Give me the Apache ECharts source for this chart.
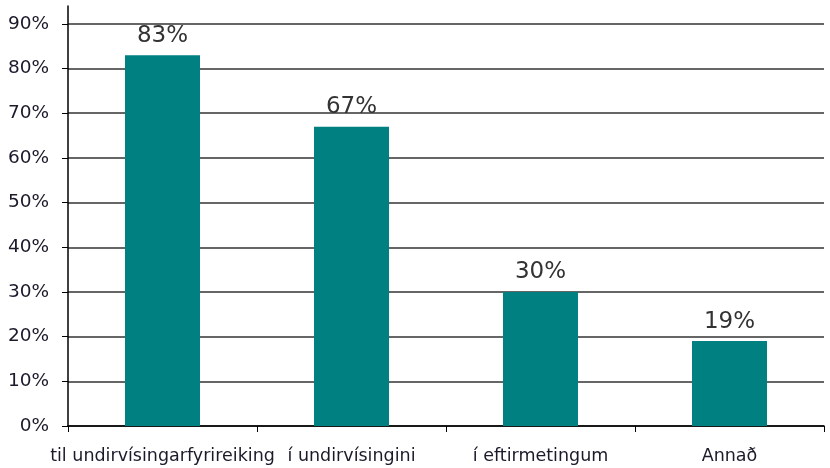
<!DOCTYPE html>
<html>
<head>
<meta charset="utf-8">
<script src="https://cdn.jsdelivr.net/npm/echarts@6/dist/echarts.min.js"></script>
<style>
  html, body { margin: 0; padding: 0; background: #fff; }
  #main { width: 830px; height: 468px; }
</style>
</head>
<body>
<div id="main"></div>
<script>
// data
var categories = ['til undirvísingarfyrireiking', 'í undirvísingini', 'í eftirmetingum', 'Annað'];
var values = [83, 67, 30, 19];
var yTicks = [0, 10, 20, 30, 40, 50, 60, 70, 80, 90];

var myChart = echarts.init(document.getElementById('main'));

var option = {
    animation: false,
    grid: {
        left: 68,
        right: 6,
        top: 6,
        bottom: 42
    },
    xAxis: {
        type: 'category',
        data: categories,
        axisLine: { lineStyle: { color: '#000', width: 1.5 } },
        axisTick: { show: true, length: 6, lineStyle: { color: '#000' } },
        axisLabel: {
            interval: 0,
            margin: 21,
            fontFamily: 'DejaVu Sans',
            fontSize: 17.5,
            color: '#1a1a2a'
        }
    },
    yAxis: {
        type: 'value',
        min: 0,
        max: 94,
        interval: 10,
        axisLine: { show: true, lineStyle: { color: '#000', width: 1.5 } },
        axisTick: { show: true, length: 6, customValues: yTicks, lineStyle: { color: '#000' } },
        axisLabel: {
            customValues: yTicks,
            margin: 19,
            fontFamily: 'DejaVu Sans',
            fontSize: 18.5,
            color: '#1a1a2a',
            formatter: '{value}%'
        },
        splitLine: {
            show: true,
            lineStyle: { color: '#333', width: 1.5 }
        }
    },
    series: [{
        type: 'bar',
        data: values,
        barWidth: 75,
        itemStyle: { color: '#008080' },
        label: {
            show: true,
            position: 'top',
            distance: 8,
            fontFamily: 'DejaVu Sans',
            fontSize: 23,
            color: '#333',
            formatter: '{c}%'
        }
    }]
};

myChart.setOption(option);
</script>
</body>
</html>
